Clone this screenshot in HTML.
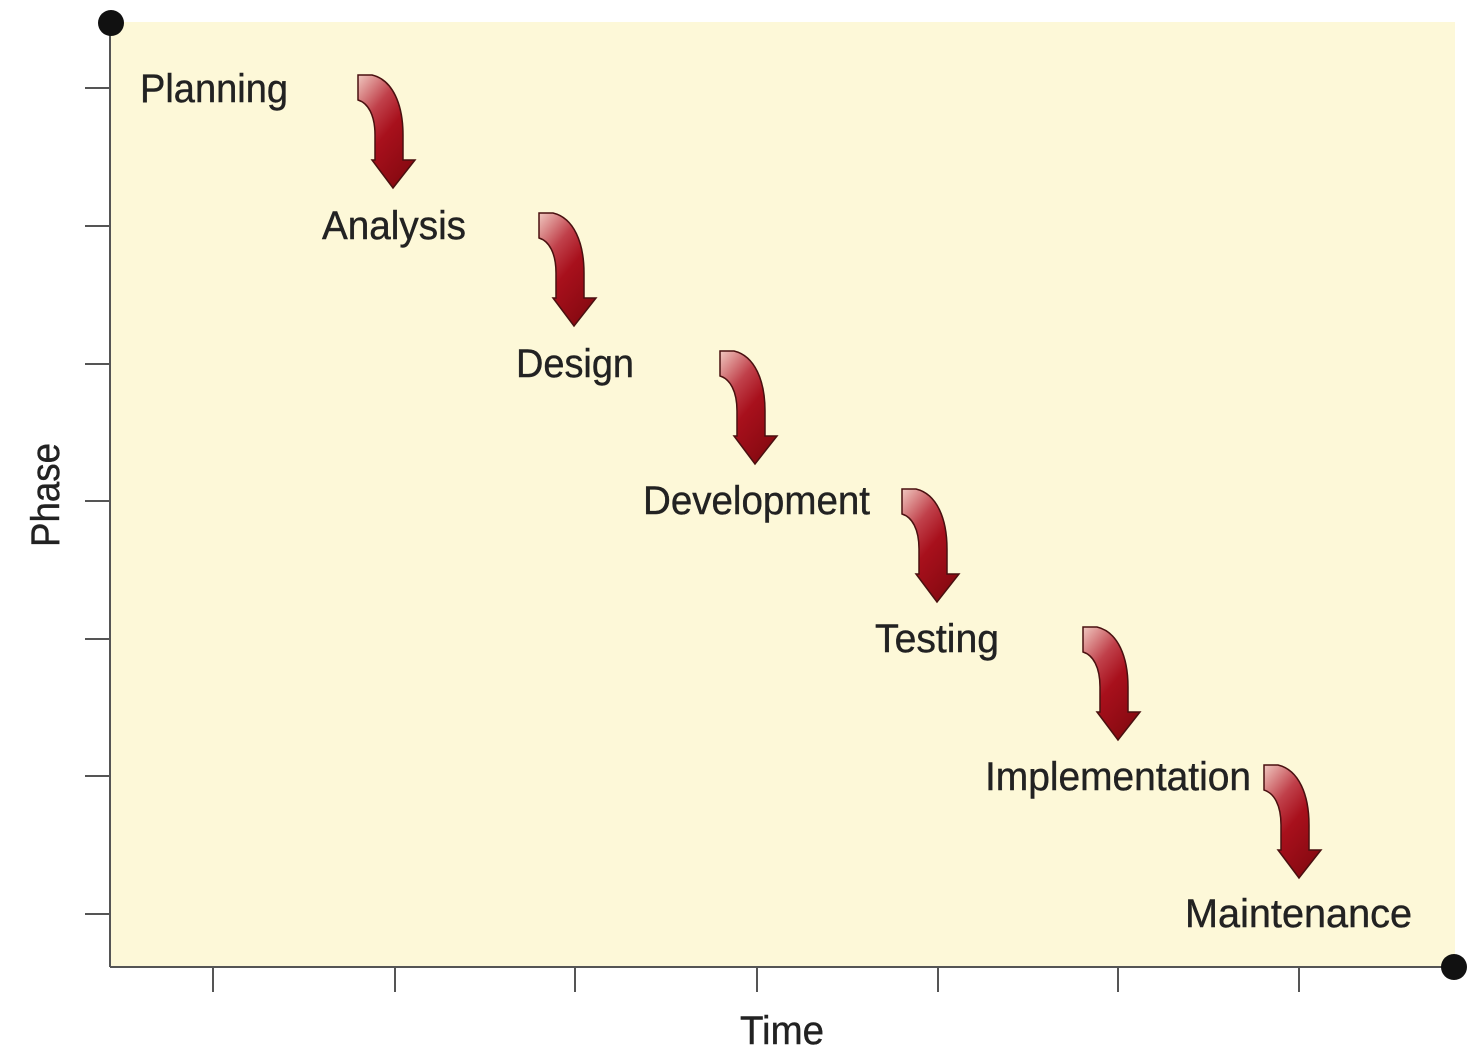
<!DOCTYPE html>
<html><head><style>html,body{margin:0;padding:0;background:#fff}svg{display:block}</style></head><body>
<svg width="1480" height="1052" viewBox="0 0 1480 1052" xmlns="http://www.w3.org/2000/svg" font-family="Liberation Sans, sans-serif">
<defs>
<linearGradient id="g" x1="0" y1="0" x2="0.6" y2="1">
<stop offset="0" stop-color="#f0c8c0"/><stop offset="0.35" stop-color="#c0404a"/><stop offset="0.6" stop-color="#a8101c"/><stop offset="1" stop-color="#8a0a12"/>
</linearGradient>
<g id="ar"><path d="M0,0 L14,0 C35,5 45,30 45,60 L45,85 L57,85 L35,113 L14,85 L17,85 L17,60 C17,40 10,28 0,25 Z" fill="url(#g)" stroke="#4a1010" stroke-width="1.5"/></g>
</defs>
<rect x="110" y="22" width="1345" height="944" fill="#fdf8d8"/>
<g stroke="#555" stroke-width="2">
<line x1="110" y1="22" x2="110" y2="967"/>
<line x1="110" y1="967" x2="1455" y2="967"/>
<line x1="85" y1="88" x2="110" y2="88"/><line x1="85" y1="226" x2="110" y2="226"/><line x1="85" y1="364" x2="110" y2="364"/><line x1="85" y1="501" x2="110" y2="501"/><line x1="85" y1="639" x2="110" y2="639"/><line x1="85" y1="776" x2="110" y2="776"/><line x1="85" y1="914" x2="110" y2="914"/>
<line x1="213" y1="967" x2="213" y2="992"/><line x1="395" y1="967" x2="395" y2="992"/><line x1="575" y1="967" x2="575" y2="992"/><line x1="757" y1="967" x2="757" y2="992"/><line x1="938" y1="967" x2="938" y2="992"/><line x1="1118" y1="967" x2="1118" y2="992"/><line x1="1299" y1="967" x2="1299" y2="992"/>
</g>
<circle cx="111" cy="23" r="13" fill="#111"/>
<circle cx="1454" cy="967" r="13" fill="#111"/>
<use href="#ar" x="358" y="75"/><use href="#ar" x="539" y="213"/><use href="#ar" x="720" y="351"/><use href="#ar" x="902" y="489"/><use href="#ar" x="1083" y="627"/><use href="#ar" x="1264" y="765"/>
<g font-size="40" fill="#222" stroke="#222" stroke-width="0.4">
<text x="140" y="102" textLength="148" lengthAdjust="spacingAndGlyphs">Planning</text>
<text x="322" y="239" textLength="144" lengthAdjust="spacingAndGlyphs">Analysis</text>
<text x="516" y="377" textLength="118" lengthAdjust="spacingAndGlyphs">Design</text>
<text x="643" y="514" textLength="227" lengthAdjust="spacingAndGlyphs">Development</text>
<text x="875" y="652" textLength="124" lengthAdjust="spacingAndGlyphs">Testing</text>
<text x="985" y="790" textLength="266" lengthAdjust="spacingAndGlyphs">Implementation</text>
<text x="1185" y="927" textLength="227" lengthAdjust="spacingAndGlyphs">Maintenance</text>
<text x="740" y="1044" textLength="84" lengthAdjust="spacingAndGlyphs">Time</text>
<text transform="translate(59,547) rotate(-90)" textLength="104" lengthAdjust="spacingAndGlyphs">Phase</text>
</g>
</svg>
</body></html>
